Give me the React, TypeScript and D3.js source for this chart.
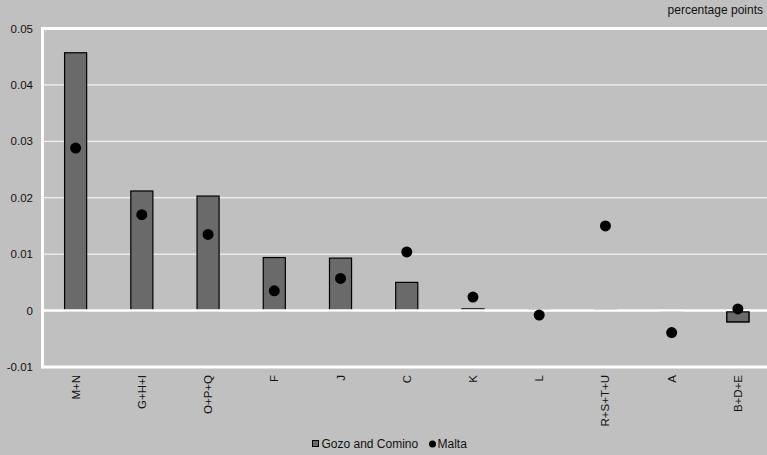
import React from "react";
import * as d3 from "d3";

const categories = ["M+N", "G+H+I", "O+P+Q", "F", "J", "C", "K", "L", "R+S+T+U", "A", "B+D+E"];
const gozoValues = [0.0457, 0.0212, 0.0203, 0.0094, 0.0093, 0.005, 0.0003, 0.0002, 0.0002, -0.0001, -0.002];
const maltaValues = [0.0288, 0.017, 0.0135, 0.0035, 0.0057, 0.0104, 0.0024, -0.0008, 0.015, -0.0039, 0.0003];
const yTicks = [-0.01, 0, 0.01, 0.02, 0.03, 0.04, 0.05];
const yTickLabels = ["-0.01", "0", "0.01", "0.02", "0.03", "0.04", "0.05"];

const W = 767;
const H = 455;
const left = 42.5;
const right = 771;
const top = 28.5;
const bottom = 367;
const font = "'Liberation Sans', Arial, sans-serif";

export default function App() {
  const x = d3.scaleBand<string>().domain(categories).range([left, right]).paddingInner(0).paddingOuter(0);
  const y = d3.scaleLinear().domain([-0.01, 0.05]).range([bottom, top]);
  const bw = x.bandwidth() / 3;

  return (
    <svg width={W} height={H} style={{ position: "absolute", left: 0, top: 0, display: "block" }}>
      <rect x={0} y={0} width={W} height={H} fill="#c0c0c0" />
      {yTicks.filter((t) => t !== 0 && t !== -0.01 && t !== 0.05).map((t) => (
        <line key={t} x1={left} x2={W} y1={y(t)} y2={y(t)} stroke="#ffffff" strokeWidth={1} />
      ))}
      <line x1={left} x2={W} y1={y(0.05)} y2={y(0.05)} stroke="#ffffff" strokeWidth={3} />
      <line x1={left} x2={W} y1={y(-0.01)} y2={y(-0.01)} stroke="#ffffff" strokeWidth={3} />
      <line x1={left} x2={left} y1={y(0.05) - 1.5} y2={y(-0.01) + 1.5} stroke="#ffffff" strokeWidth={3} />
      {yTicks.map((t, i) => (
        <text key={t} x={33} y={y(t)} dy="0.35em" textAnchor="end" fontFamily={font} fontSize={11.5} fill="#111">
          {yTickLabels[i]}
        </text>
      ))}
      {categories.map((c, i) => {
        const v = gozoValues[i];
        const cx = (x(c) as number) + x.bandwidth() / 2;
        const y0 = y(0);
        const y1 = y(v);
        const small = Math.abs(y1 - y0) < 1.5;
        return (
          <rect
            key={c}
            x={cx - bw / 2}
            y={Math.min(y0, y1)}
            width={bw}
            height={Math.max(Math.abs(y1 - y0), 0.5)}
            fill="#6a6a6a"
            stroke={small ? "#555" : "#000"}
            strokeWidth={small ? 0.8 : 1.2}
          />
        );
      })}
      <line x1={left} x2={W} y1={y(0)} y2={y(0)} stroke="#ffffff" strokeWidth={2.5} />
      {categories.map((c, i) => {
        const v = gozoValues[i];
        if (v >= 0) return null;
        const cx = (x(c) as number) + x.bandwidth() / 2;
        const y0 = y(0);
        const y1 = y(v);
        if (Math.abs(y1 - y0) < 2) return null;
        return (
          <rect key={c + "n"} x={cx - bw / 2} y={y0 + 1.3} width={bw} height={y1 - y0 - 1.3} fill="#6a6a6a" stroke="#000" strokeWidth={1.2} />
        );
      })}
      {categories.map((c, i) => {
        const cx = (x(c) as number) + x.bandwidth() / 2;
        return <circle key={c + "m"} cx={cx} cy={y(maltaValues[i])} r={5.5} fill="#000" />;
      })}
      {categories.map((c) => {
        const cx = (x(c) as number) + x.bandwidth() / 2;
        return (
          <text
            key={c + "l"}
            transform={`translate(${cx + 4},${375}) rotate(-90)`}
            textAnchor="end"
            fontFamily={font}
            fontSize={11.5}
            fill="#111"
          >
            {c}
          </text>
        );
      })}
      <text x={763} y={14} textAnchor="end" fontFamily={font} fontSize={12} fill="#111">
        percentage points
      </text>
      <g>
        <rect x={312.5} y={440.5} width={6} height={6} fill="#6a6a6a" stroke="#000" strokeWidth={1} />
        <text x={321.5} y={448} fontFamily={font} fontSize={12} fill="#111">
          Gozo and Comino
        </text>
        <circle cx={432.5} cy={444} r={3.5} fill="#000" />
        <text x={437.5} y={448} fontFamily={font} fontSize={12} fill="#111">
          Malta
        </text>
      </g>
    </svg>
  );
}
